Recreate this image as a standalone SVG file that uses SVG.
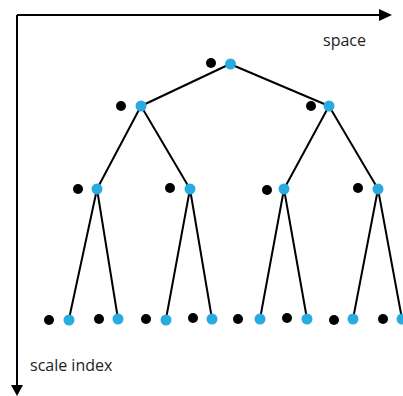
<svg xmlns="http://www.w3.org/2000/svg" width="403" height="396" viewBox="0 0 403 396">
<style>
.ax{stroke:#000;stroke-width:2;fill:none}
.e{stroke:#000;stroke-width:2;fill:none}
.b{fill:#29abe2}
.k{fill:#000}
.t{font-family:"Open Sans","Noto Sans",sans-serif;font-size:16px;fill:#222}
</style>
<rect width="403" height="396" fill="#fff"/>
<g id="axes">
<path class="ax" d="M17,15 H380 M17,15 V386"/>
<polygon points="379,9 392,15 379,21" fill="#000"/>
<polygon points="11,385 23,385 17,396" fill="#000"/>
<text class="t" x="323" y="46">space</text>
<text class="t" x="30" y="371">scale index</text>
</g>
<g id="connectors">
<path class="e" d="M230,64 L141,106 M230,64 L329,106 M141,106 L97,189 M141,106 L190,189 M329,106 L284,189 M329,106 L378,189 M97,189 L69,319 M97,189 L118,319 M190,189 L166,319 M190,189 L212,319 M284,189 L260,319 M284,189 L307,319 M378,189 L353,319 M378,189 L402,319"/>
</g>
<g id="n0"><circle class="k" cx="211" cy="63" r="5"/><circle class="b" cx="230.5" cy="64" r="5.5"/></g>
<g id="n1"><circle class="k" cx="121" cy="106" r="5"/><circle class="b" cx="141" cy="106" r="5.5"/></g>
<g id="n2"><circle class="k" cx="311" cy="106" r="5"/><circle class="b" cx="329" cy="106" r="5.5"/></g>
<g id="n3"><circle class="k" cx="78" cy="189" r="5"/><circle class="b" cx="97" cy="189" r="5.5"/></g>
<g id="n4"><circle class="k" cx="170" cy="188" r="5"/><circle class="b" cx="190" cy="189" r="5.5"/></g>
<g id="n5"><circle class="k" cx="267" cy="190" r="5"/><circle class="b" cx="284" cy="189" r="5.5"/></g>
<g id="n6"><circle class="k" cx="358" cy="188" r="5"/><circle class="b" cx="378" cy="189" r="5.5"/></g>
<g id="n7"><circle class="k" cx="49" cy="320" r="5"/><circle class="b" cx="69" cy="320" r="5.5"/></g>
<g id="n8"><circle class="k" cx="99" cy="319" r="5"/><circle class="b" cx="118" cy="319" r="5.5"/></g>
<g id="n9"><circle class="k" cx="146" cy="319" r="5"/><circle class="b" cx="166" cy="320" r="5.5"/></g>
<g id="n10"><circle class="k" cx="193" cy="318" r="5"/><circle class="b" cx="212" cy="319" r="5.5"/></g>
<g id="n11"><circle class="k" cx="238" cy="319" r="5"/><circle class="b" cx="260" cy="319" r="5.5"/></g>
<g id="n12"><circle class="k" cx="287" cy="318" r="5"/><circle class="b" cx="307" cy="319" r="5.5"/></g>
<g id="n13"><circle class="k" cx="334" cy="320" r="5"/><circle class="b" cx="353" cy="319" r="5.5"/></g>
<g id="n14"><circle class="k" cx="383" cy="319" r="5"/><circle class="b" cx="402" cy="319" r="5.5"/></g>
</svg>
